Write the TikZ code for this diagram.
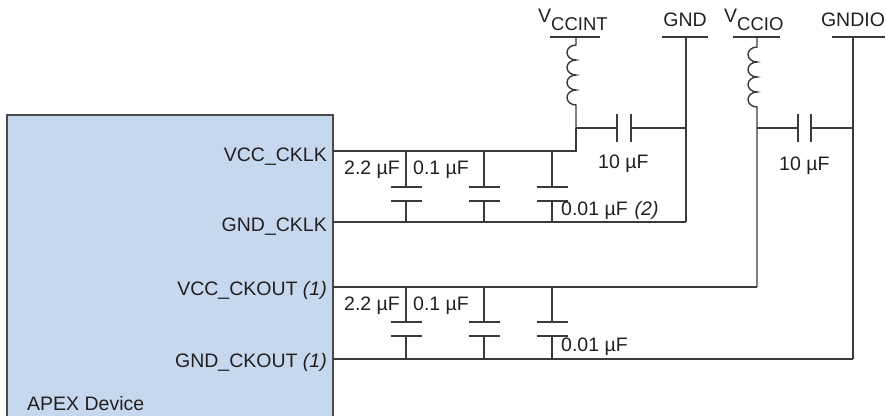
\documentclass[tikz,border=0pt]{standalone}
\usepackage{fontspec}
\setmainfont{Liberation Sans}
\definecolor{wirecol}{HTML}{3A3A3A}
\definecolor{txtcol}{HTML}{231F20}
\definecolor{apexfill}{HTML}{C6D8EE}
\definecolor{boxcol}{HTML}{4A4A4A}
\begin{document}
\begin{tikzpicture}[x=1pt,y=-1pt,
  wire/.style={line width=1.4pt, draw=wirecol},
  plate/.style={line width=1.6pt, draw=wirecol},
  lbl/.style={font=\fontsize{19.5}{22}\selectfont, text=txtcol, inner sep=0pt},
  coil/.style={line width=1.4pt, draw=wirecol}]
\useasboundingbox (0,0) rectangle (886,415);

% APEX device box
\path[fill=apexfill, draw=boxcol, line width=1.6pt] (7,115) rectangle (333,420);
\node[lbl, anchor=base west] (apex) at (27,410) {APEX Device};

% pin labels
\node[lbl, anchor=base east] (p1) at (327,161) {VCC\_CKLK};
\node[lbl, anchor=base east] (p2) at (327,231) {GND\_CKLK};
\node[lbl, anchor=base east] (p3) at (327,295) {VCC\_CKOUT \textit{(1)}};
\node[lbl, anchor=base east] (p4) at (327,367) {GND\_CKOUT \textit{(1)}};

% pin coordinates
\coordinate (a1) at (333,151);
\coordinate (a2) at (333,222);
\coordinate (a3) at (333,287);
\coordinate (a4) at (333,359);

% supply rails labels
\node[lbl, anchor=base west] (vccint) at (538,22) {V\raisebox{-9pt}{\fontsize{18.5}{20}\selectfont CCINT}};
\node[lbl, anchor=base] (gnd) at (685,27) {GND};
\node[lbl, anchor=base west] (vccio) at (724,22) {V\raisebox{-8pt}{\fontsize{18.5}{20}\selectfont CCIO}};
\node[lbl, anchor=base] (gndio) at (853,27) {GNDIO};

% rail bars
\draw[wire] (550,37) coordinate (vib1) -- (600,37) coordinate (vib2);
\draw[wire] (662,37) coordinate (gb1) -- (708,37) coordinate (gb2);
\draw[wire] (733,37) coordinate (vob1) -- (780,37) coordinate (vob2);
\draw[wire] (832,37) coordinate (gob1) -- (885,37) coordinate (gob2);

% junction coordinates
\coordinate (vitop) at (576,37);
\coordinate (vicoil) at (576,45);
\coordinate (vicap) at (576,128);
\coordinate (vij) at (576,151);
\coordinate (gtop) at (686,37);
\coordinate (gcap) at (686,128);
\coordinate (gj) at (686,222);
\coordinate (votop) at (757,37);
\coordinate (vocoil) at (757,47);
\coordinate (vocap) at (757,128);
\coordinate (voj) at (757,287);
\coordinate (gotop) at (853,37);
\coordinate (gocap) at (853,128);
\coordinate (goj) at (853,359);

% VCCINT inductor
\draw[coil] (vitop) -- (vicoil)
  arc[start angle=270, end angle=90, x radius=9, y radius=7.5]
  arc[start angle=270, end angle=90, x radius=9, y radius=7.5]
  arc[start angle=270, end angle=90, x radius=9, y radius=7.5]
  arc[start angle=270, end angle=90, x radius=9, y radius=7.5]
  -- (vij);
% VCCIO inductor
\draw[coil] (votop) -- (vocoil)
  arc[start angle=270, end angle=90, x radius=9, y radius=7.5]
  arc[start angle=270, end angle=90, x radius=9, y radius=7.5]
  arc[start angle=270, end angle=90, x radius=9, y radius=7.5]
  arc[start angle=270, end angle=90, x radius=9, y radius=7.5]
  -- (voj);

% ground rails
\draw[wire] (gtop) -- (gj);
\draw[wire] (gotop) -- (goj);

% 10 uF bulk caps
\draw[wire] (vicap) -- (617,128);
\draw[plate] (617,114) -- (617,142);
\draw[plate] (631,114) -- (631,142);
\draw[wire] (631,128) -- (gcap);
\node[lbl, anchor=base west] (c10a) at (598,168) {10 µF};

\draw[wire] (vocap) -- (798,128);
\draw[plate] (798,114) -- (798,142);
\draw[plate] (811,114) -- (811,142);
\draw[wire] (811,128) -- (gocap);
\node[lbl, anchor=base west] (c10b) at (779,170) {10 µF};

% main lines
\draw[wire] (a1) -- (vij) -- (vicap);
\draw[wire] (a2) -- (gj);
\draw[wire] (a3) -- (voj);
\draw[wire] (a4) -- (goj);

% decoupling caps
\foreach \x in {406,484,552} {
  \draw[wire] (\x,151) -- (\x,187);
  \draw[plate] (\x-15.5,187) -- (\x+15.5,187);
  \draw[plate] (\x-15.5,201) -- (\x+15.5,201);
  \draw[wire] (\x,201) -- (\x,222);
  \draw[wire] (\x,287) -- (\x,322);
  \draw[plate] (\x-15.5,322) -- (\x+15.5,322);
  \draw[plate] (\x-15.5,336) -- (\x+15.5,336);
  \draw[wire] (\x,336) -- (\x,359);
}

\node[lbl, anchor=base west] (ca1) at (344,174) {2.2 µF};
\node[lbl, anchor=base west] (cb1) at (413,174) {0.1 µF};
\node[lbl, anchor=base west] (cc1) at (561,215) {0.01 µF\hspace{7pt}\textit{(2)}};
\node[lbl, anchor=base west] (ca2) at (344,310) {2.2 µF};
\node[lbl, anchor=base west] (cb2) at (413,310) {0.1 µF};
\node[lbl, anchor=base west] (cc2) at (561,351) {0.01 µF};
\end{tikzpicture}
\end{document}
